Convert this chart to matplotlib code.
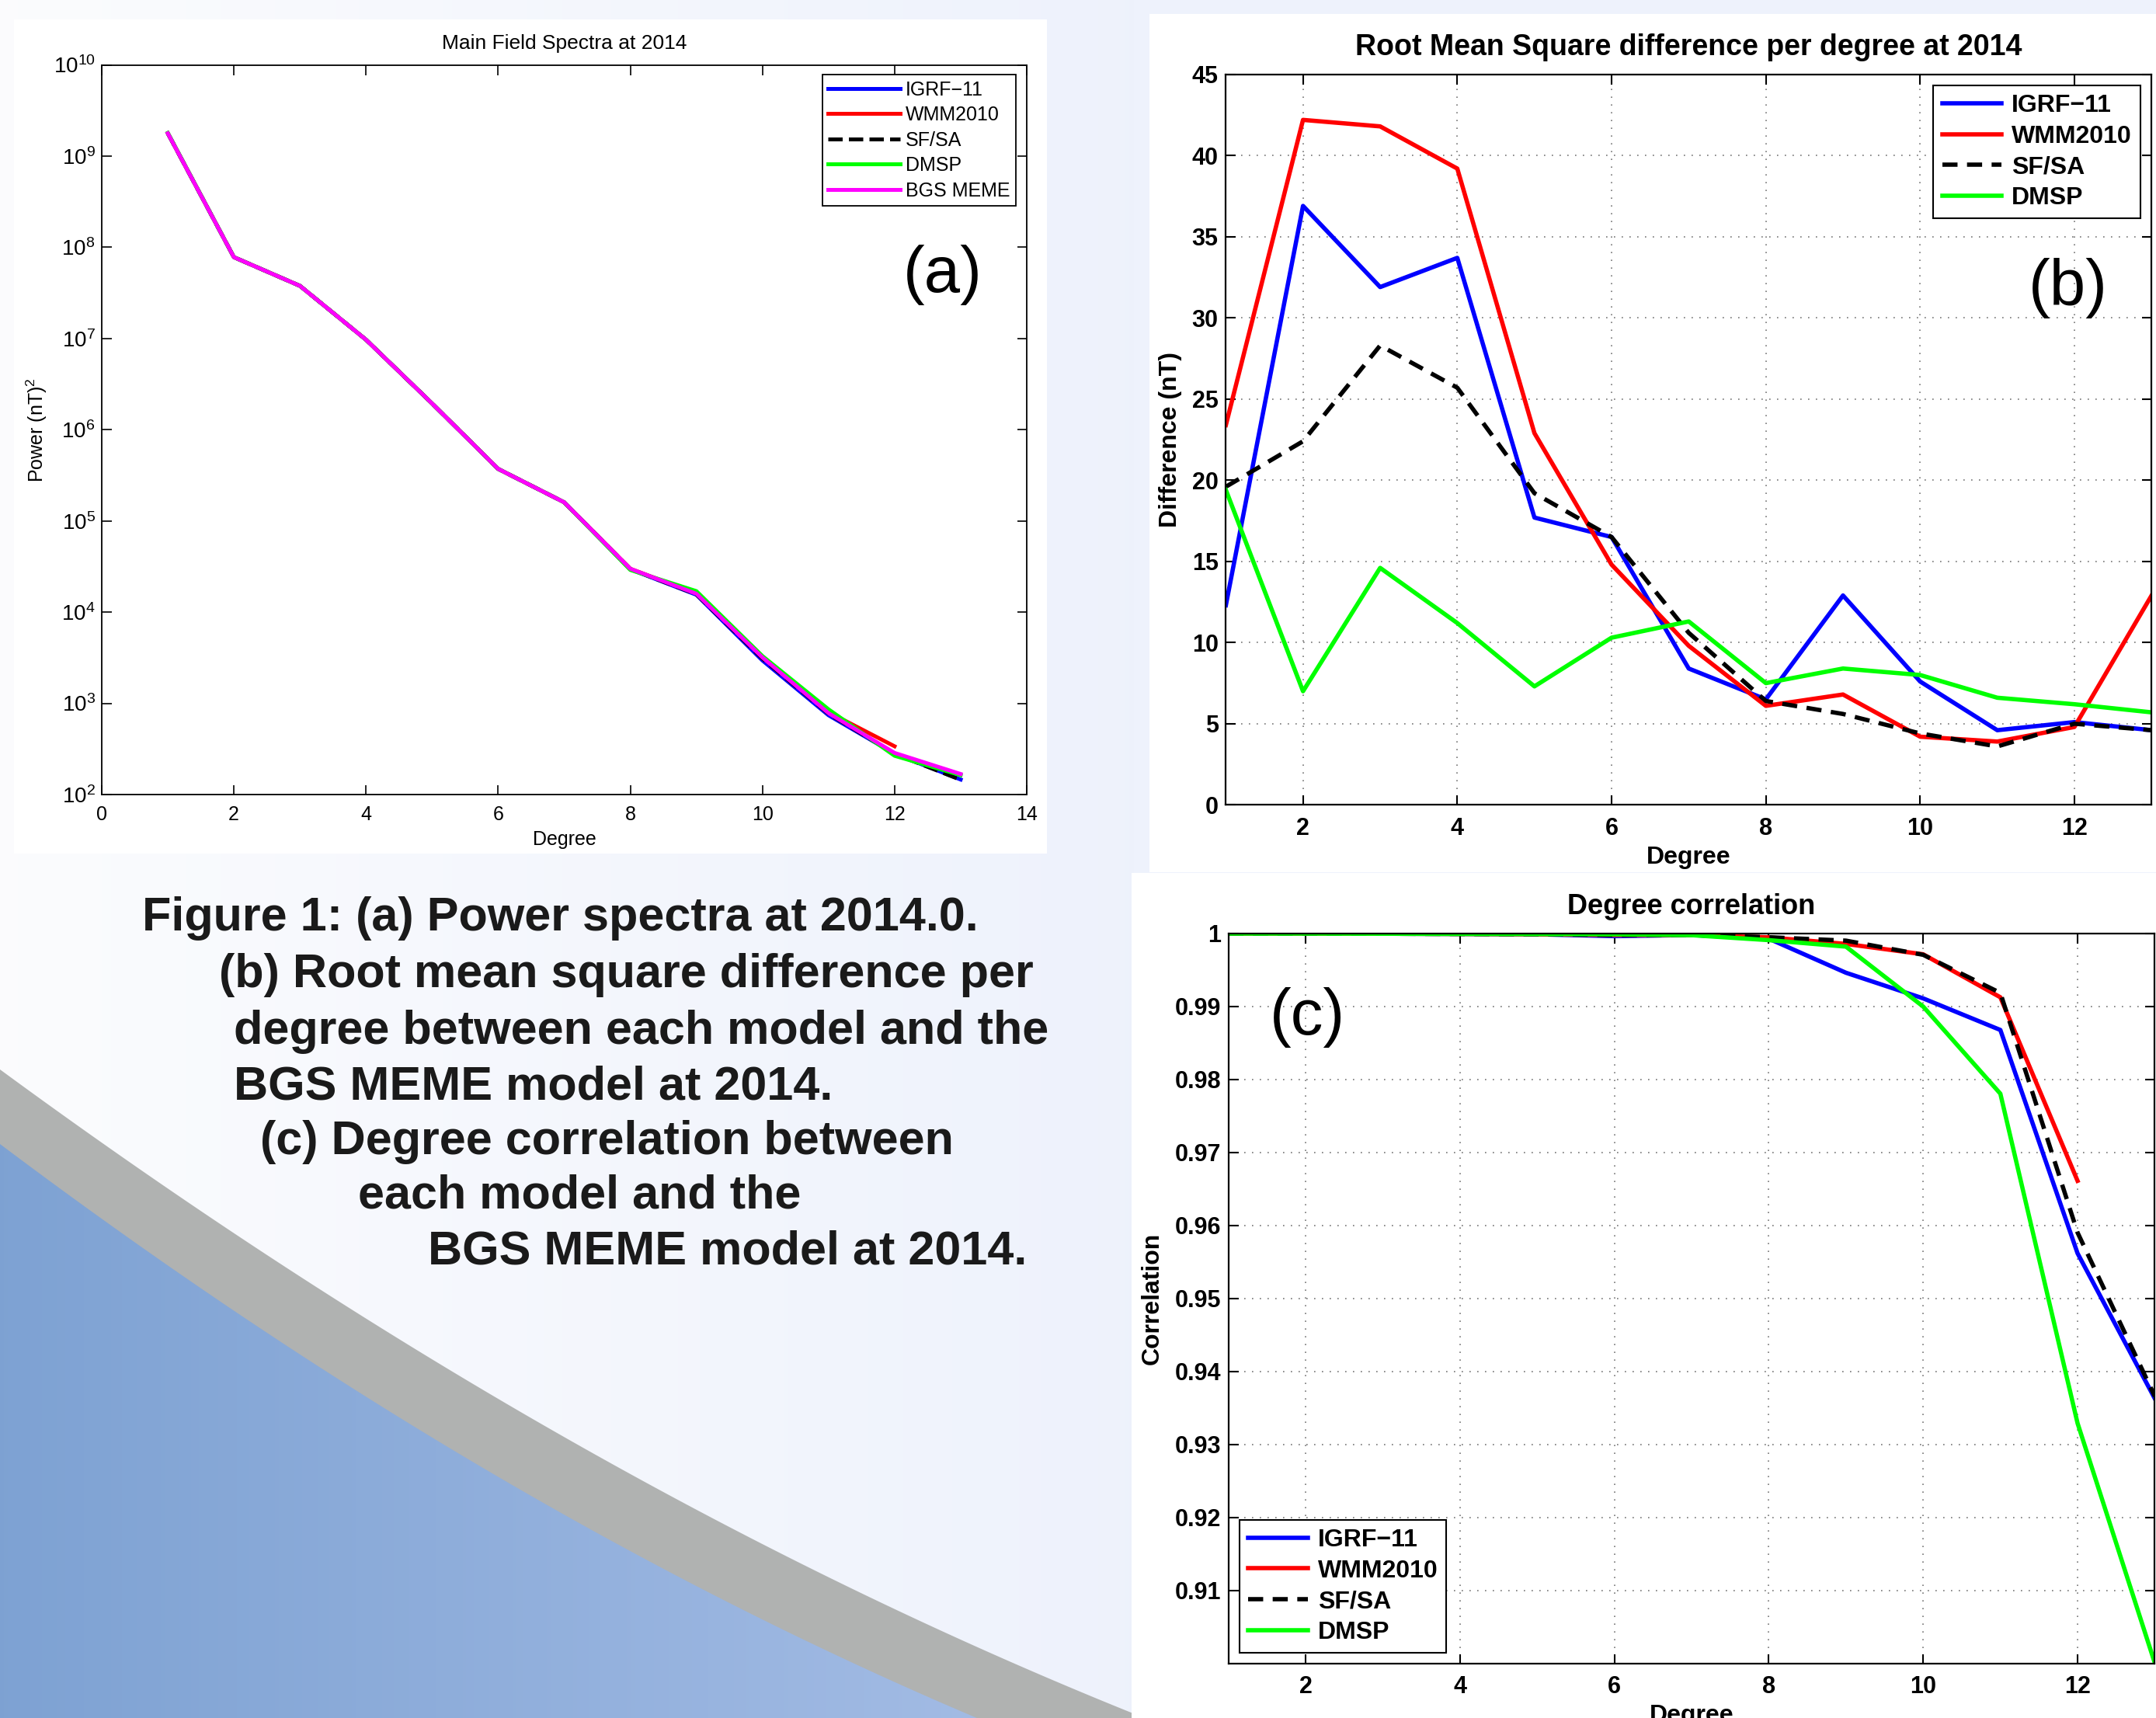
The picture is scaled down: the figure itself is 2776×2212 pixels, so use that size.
import numpy as np
import matplotlib
matplotlib.use("Agg")
import matplotlib.pyplot as plt
from matplotlib.patches import Polygon, Rectangle
from matplotlib.ticker import FixedLocator, LogLocator, NullLocator

plt.rcParams['font.family'] = ['Liberation Sans', 'DejaVu Sans']
plt.rcParams['axes.unicode_minus'] = True
plt.rcParams['mathtext.fontset'] = 'custom'
plt.rcParams['mathtext.rm'] = 'Liberation Sans'
plt.rcParams['mathtext.it'] = 'Liberation Sans:italic'
plt.rcParams['mathtext.bf'] = 'Liberation Sans:bold'

# ---------------- data ----------------
degrees = [1, 2, 3, 4, 5, 6, 7, 8, 9, 10, 11, 12, 13]
degrees_wmm = [1, 2, 3, 4, 5, 6, 7, 8, 9, 10, 11, 12]

model_names = ["IGRF\u221211", "WMM2010", "SF/SA", "DMSP", "BGS MEME"]

# (a) power spectra (nT)^2
power_igrf = [1.78e9, 7.8e7, 3.78e7, 9.7e6, 1.94e6, 3.72e5, 1.6e5, 2.95e4, 1.55e4, 2.95e3, 7.4e2, 2.8e2, 1.46e2]
power_wmm = [1.78e9, 7.8e7, 3.78e7, 9.7e6, 1.94e6, 3.72e5, 1.6e5, 2.99e4, 1.6e4, 3.2e3, 8.0e2, 3.38e2]
power_sfsa = [1.78e9, 7.8e7, 3.78e7, 9.7e6, 1.94e6, 3.72e5, 1.6e5, 2.97e4, 1.57e4, 3.1e3, 7.7e2, 2.8e2, 1.45e2]
power_dmsp = [1.80e9, 7.8e7, 3.78e7, 9.7e6, 1.94e6, 3.72e5, 1.6e5, 2.9e4, 1.7e4, 3.3e3, 8.6e2, 2.66e2, 1.63e2]
power_meme = [1.78e9, 7.8e7, 3.78e7, 9.7e6, 1.94e6, 3.72e5, 1.6e5, 2.99e4, 1.59e4, 3.18e3, 7.8e2, 2.86e2, 1.68e2]

# (b) RMS difference per degree (nT)
rms_igrf = [12.3, 36.9, 31.9, 33.7, 17.7, 16.5, 8.4, 6.5, 12.9, 7.6, 4.6, 5.1, 4.6]
rms_wmm = [23.4, 42.2, 41.8, 39.2, 22.9, 14.8, 9.8, 6.1, 6.8, 4.2, 3.9, 4.8, 12.9]
rms_sfsa = [19.6, 22.4, 28.3, 25.7, 19.2, 16.5, 10.6, 6.4, 5.6, 4.4, 3.6, 5.0, 4.6]
rms_dmsp = [19.4, 7.0, 14.6, 11.2, 7.3, 10.3, 11.3, 7.5, 8.4, 8.0, 6.6, 6.2, 5.7]

# (c) degree correlation
corr_igrf = [1.0, 1.0, 0.99998, 0.99995, 0.9999, 0.99965, 0.9998, 0.9993, 0.99463, 0.99112, 0.98679, 0.95619, 0.9363]
corr_wmm = [1.0, 1.0, 0.99998, 0.99995, 0.9999, 0.9998, 0.9998, 0.99948, 0.99858, 0.99716, 0.99127, 0.96612]
corr_sfsa = [1.0, 1.0, 0.99998, 0.99995, 0.9999, 0.9998, 0.9998, 0.9995, 0.99903, 0.99709, 0.99187, 0.95903, 0.9366]
corr_dmsp = [1.0, 1.0, 0.99998, 0.99995, 0.99993, 0.9999, 0.99978, 0.9991, 0.99821, 0.99, 0.97806, 0.93291, 0.90007]

a_xticks = [0, 2, 4, 6, 8, 10, 12, 14]
bc_xticks = [2, 4, 6, 8, 10, 12]
b_yticks = [0, 5, 10, 15, 20, 25, 30, 35, 40, 45]
c_yticks = [0.91, 0.92, 0.93, 0.94, 0.95, 0.96, 0.97, 0.98, 0.99, 1.0]
c_yticklabels = ["0.91", "0.92", "0.93", "0.94", "0.95", "0.96", "0.97", "0.98", "0.99", "1"]

caption_lines = [
    "Figure 1: (a) Power spectra at 2014.0.",
    "(b) Root mean square difference per",
    "degree between each model and the",
    "BGS MEME model at 2014.",
    "(c) Degree correlation between",
    "each model and the",
    "BGS MEME model at 2014.",
]

# ---------------- figure ----------------
W, H = 2776, 2212
DPI = 100
fig = plt.figure(figsize=(W / DPI, H / DPI), dpi=DPI)


def rect(l, t, r, b):
    return [l / W, 1 - b / H, (r - l) / W, (b - t) / H]


# background (pixel coordinates)
bg = fig.add_axes([0, 0, 1, 1])
bg.set_xlim(0, W)
bg.set_ylim(H, 0)
bg.axis('off')
bg.set_zorder(-10)
grad = np.linspace(0, 1, 256)[None, :]
c0 = np.array([0.985, 0.988, 0.996])
c1 = np.array([0.933, 0.949, 0.988])
img = c0[None, None, :] * (1 - grad[..., None]) + c1[None, None, :] * grad[..., None]
bg.imshow(img, extent=[0, 1460, H, 0], aspect='auto', zorder=0)
bg.add_patch(Rectangle((1460, 0), W - 1460, H, color=c1, zorder=0))

xs = np.linspace(0, 1480, 200)
yg = 1377 + 0.734 * xs - 1.136e-4 * xs ** 2
grey_pts = np.column_stack([xs, yg]).tolist() + [[1480, H + 5], [0, H + 5]]
bg.add_patch(Polygon(grey_pts, closed=True, facecolor='#b0b2b1', edgecolor='none', zorder=1))

xb = np.linspace(0, 1260, 200)
yb = 1473 + 0.7518 * xb - 1.306e-4 * xb ** 2
blue_pts = np.column_stack([xb, yb]).tolist() + [[1260, H + 5], [0, H + 5]]
blue_poly = Polygon(blue_pts, closed=True, facecolor='none', edgecolor='none', zorder=2)
bg.add_patch(blue_poly)
bc0 = np.array([0.494, 0.635, 0.827])
bc1 = np.array([0.635, 0.733, 0.894])
bimg = bc0[None, None, :] * (1 - grad[..., None]) + bc1[None, None, :] * grad[..., None]
bim = bg.imshow(bimg, extent=[0, 1260, H, 1400], aspect='auto', zorder=2)
bim.set_clip_path(blue_poly)

# white panels
bg.add_patch(Rectangle((18, 25), 1330, 1074, facecolor='white', edgecolor='none', zorder=3))
bg.add_patch(Rectangle((1480, 18), W - 1480 + 5, 1105, facecolor='white', edgecolor='none', zorder=3))
bg.add_patch(Rectangle((1457, 1124), W - 1457 + 5, H - 1124 + 5, facecolor='white', edgecolor='none', zorder=3))

# caption
cap_x = [183, 282, 301, 301, 335, 461, 551]
cap_base = [1198, 1271, 1344, 1415, 1486, 1556, 1627]
for txt, x, y in zip(caption_lines, cap_x, cap_base):
    fig.text(x / W, 1 - y / H, txt, ha='left', va='baseline', fontsize=44,
             fontweight='bold', color='#1a1a1a')

BLUE, RED, GREEN, MAG = (0, 0, 1), (1, 0, 0), (0, 1, 0), (1, 0, 1)

# ---------------- panel (a) ----------------
axa = fig.add_axes(rect(131, 83.6, 1322, 1023))
lwa = 3.6
axa.plot(degrees, power_igrf, color=BLUE, lw=lwa, label=model_names[0])
axa.plot(degrees_wmm, power_wmm, color=RED, lw=lwa, label=model_names[1])
axa.plot(degrees, power_sfsa, color='k', lw=lwa, ls='--', label=model_names[2])
axa.plot(degrees, power_dmsp, color=GREEN, lw=lwa, label=model_names[3])
axa.plot(degrees, power_meme, color=MAG, lw=lwa, label=model_names[4])
axa.set_yscale('log')
axa.set_xlim(0, 14)
axa.set_ylim(1e2, 1e10)
axa.xaxis.set_major_locator(FixedLocator(a_xticks))
axa.yaxis.set_major_locator(LogLocator(base=10, numticks=20))
axa.yaxis.set_minor_locator(NullLocator())
axa.tick_params(which='both', direction='in', top=True, right=True, length=9, width=1.2,
                labelsize=18)
axa.tick_params(axis='x', pad=10)
axa.tick_params(axis='y', pad=6, labelsize=20)
for s in axa.spines.values():
    s.set_linewidth(1.3)
axa.set_title("Main Field Spectra at 2014", fontsize=19, pad=15)
axa.set_xlabel("Degree", fontsize=18, labelpad=6)
axa.set_ylabel("Power (nT)$^2$", fontsize=18, labelpad=4)
leg = axa.legend(loc='upper right', bbox_to_anchor=(0.9883, 0.9868), borderaxespad=0,
                 fontsize=18, handlelength=3.7, handletextpad=0.3, labelspacing=0.34,
                 borderpad=0.3, fancybox=False, framealpha=1, edgecolor='black')
leg.get_frame().set_linewidth(1.3)
axa.text(0.909, 0.712, "(a)", transform=axa.transAxes, fontsize=60, ha='center', va='center')

# ---------------- panel (b) ----------------
lwb = 4.0
bold = {'weight': 'bold', 'size': 23}
axb = fig.add_axes(rect(1578.4, 95.85, 2770.3, 1036.3))
axb.plot(degrees, rms_igrf, color=BLUE, lw=lwb, label=model_names[0])
axb.plot(degrees, rms_wmm, color=RED, lw=lwb, label=model_names[1])
axb.plot(degrees, rms_sfsa, color='k', lw=lwb, ls=(0, (3.5, 2.2)), label=model_names[2])
axb.plot(degrees, rms_dmsp, color=GREEN, lw=lwb, label=model_names[3])
axb.set_xlim(1, 13)
axb.set_ylim(0, 45)
axb.xaxis.set_major_locator(FixedLocator(bc_xticks))
axb.yaxis.set_major_locator(FixedLocator(b_yticks))

axc = fig.add_axes(rect(1581.6, 1202, 2774.4, 2141.7))
axc.plot(degrees, corr_igrf, color=BLUE, lw=lwb, label=model_names[0])
axc.plot(degrees_wmm, corr_wmm, color=RED, lw=lwb, label=model_names[1])
axc.plot(degrees, corr_sfsa, color='k', lw=lwb, ls=(0, (3.5, 2.2)), label=model_names[2])
axc.plot(degrees, corr_dmsp, color=GREEN, lw=lwb, label=model_names[3])
axc.set_xlim(1, 13)
axc.set_ylim(0.90, 1.0)
axc.xaxis.set_major_locator(FixedLocator(bc_xticks))
axc.set_yticks(c_yticks)
axc.set_yticklabels(c_yticklabels)

for ax in (axb, axc):
    ax.grid(True, which='major', color='#777777', linestyle=(0, (1, 5)), linewidth=1.2)
    ax.tick_params(direction='in', top=True, right=True, length=9, width=1.5, labelsize=22)
    ax.tick_params(axis='x', pad=11)
    ax.tick_params(axis='y', pad=7)
    for lab in ax.get_xticklabels() + ax.get_yticklabels():
        lab.set_fontweight('bold')
    for s in ax.spines.values():
        s.set_linewidth(1.6)
    ax.set_xlabel("Degree", fontsize=23, fontweight='bold', labelpad=5)

axb.set_title("Root Mean Square difference per degree at 2014", fontsize=27,
              fontweight='bold', pad=18)
axb.set_ylabel("Difference (nT)", fontsize=23, fontweight='bold', labelpad=9)
legb = axb.legend(loc='upper right', bbox_to_anchor=(0.988, 0.985), borderaxespad=0,
                  prop=bold, handlelength=2.4, handletextpad=0.4, labelspacing=0.3,
                  borderpad=0.35, fancybox=False, framealpha=1, edgecolor='black')
legb.get_frame().set_linewidth(1.5)
axb.text(0.910, 0.7074, "(b)", transform=axb.transAxes, fontsize=60, ha='center', va='center')

axc.set_title("Degree correlation", fontsize=26, fontweight='bold', pad=18)
axc.set_ylabel("Correlation", fontsize=23, fontweight='bold', labelpad=10)
legc = axc.legend(loc='lower left', bbox_to_anchor=(0.012, 0.0146), borderaxespad=0,
                  prop=bold, handlelength=2.4, handletextpad=0.4, labelspacing=0.3,
                  borderpad=0.35, fancybox=False, framealpha=1, edgecolor='black')
legc.get_frame().set_linewidth(1.5)
axc.text(0.085, 0.885, "(c)", transform=axc.transAxes, fontsize=60, ha='center', va='center')

fig.savefig("out.png", dpi=DPI)
